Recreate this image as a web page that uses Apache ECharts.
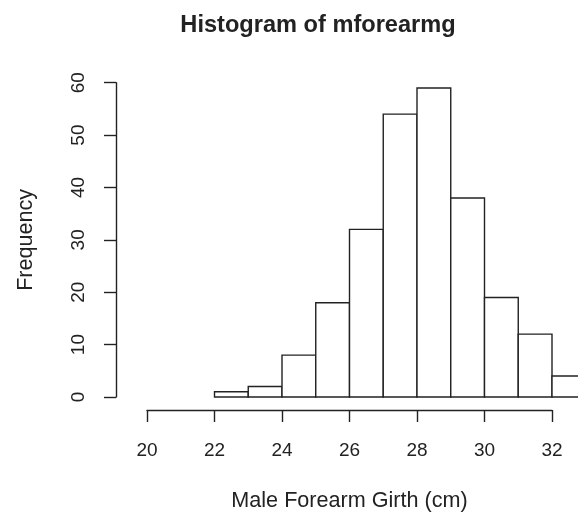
<!DOCTYPE html>
<html>
<head>
<meta charset="utf-8">
<script src="https://cdn.jsdelivr.net/npm/echarts@6/dist/echarts.min.js"></script>
<style>
html,body{margin:0;padding:0;background:#fff;}
#c{width:578px;height:517px;}
</style>
</head>
<body>
<div id="c"></div>
<script>
var binStart = [22, 23, 24, 25, 26, 27, 28, 29, 30, 31, 32];
var binEnd   = [23, 24, 25, 26, 27, 28, 29, 30, 31, 32, 33];
var counts   = [1, 2, 8, 18, 32, 54, 59, 38, 19, 12, 4];
var xTicks = [20, 22, 24, 26, 28, 30, 32];
var yTicks = [0, 10, 20, 30, 40, 50, 60];
var titleText = 'Histogram of mforearmg';
var xTitle = 'Male Forearm Girth (cm)';
var yTitle = 'Frequency';

var data = binStart.map(function (s, i) { return [s, binEnd[i], counts[i]]; });
var font = 'Liberation Sans, Arial, Helvetica, sans-serif';
var ink = '#222';

var chart = echarts.init(document.getElementById('c'), null, {renderer: 'canvas'});
chart.setOption({
  backgroundColor: '#fff',
  animation: false,
  title: {
    text: titleText,
    left: 313, top: 8, textAlign: 'center',
    textStyle: {fontFamily: font, fontSize: 23.6, fontWeight: 'bold', color: ink}
  },
  grid: {left: 147, right: 26, top: 82.7, bottom: 118.7, containLabel: false},
  xAxis: {
    type: 'value', min: xTicks[0], max: xTicks[xTicks.length - 1], interval: 2,
    offset: 13,
    name: xTitle, nameLocation: 'middle', nameGap: 80,
    nameTextStyle: {fontFamily: font, fontSize: 21.6, color: ink},
    axisLine: {show: true, onZero: false, lineStyle: {color: ink, width: 1.4}},
    axisTick: {show: true, length: 12, lineStyle: {color: ink, width: 1.4}},
    axisLabel: {margin: 31, fontFamily: font, fontSize: 19, color: ink},
    splitLine: {show: false}
  },
  yAxis: {
    type: 'value', min: yTicks[0], max: yTicks[yTicks.length - 1], interval: 10,
    offset: 31,
    name: yTitle, nameLocation: 'middle', nameGap: 79, nameRotate: 90,
    nameTextStyle: {fontFamily: font, fontSize: 21.6, color: ink},
    axisLine: {show: true, onZero: false, lineStyle: {color: ink, width: 1.4}},
    axisTick: {show: true, length: 12, lineStyle: {color: ink, width: 1.4}},
    axisLabel: {margin: 28, rotate: 90, fontFamily: font, fontSize: 19, color: ink},
    splitLine: {show: false}
  },
  series: [{
    type: 'custom',
    clip: false,
    data: data,
    renderItem: function (params, api) {
      var p0 = api.coord([api.value(0), 0]);
      var p1 = api.coord([api.value(1), api.value(2)]);
      return {
        type: 'rect',
        shape: {x: p0[0], y: p1[1], width: p1[0] - p0[0], height: p0[1] - p1[1]},
        style: {fill: '#fff', stroke: ink, lineWidth: 1.4}
      };
    }
  }]
});
</script>
</body>
</html>
